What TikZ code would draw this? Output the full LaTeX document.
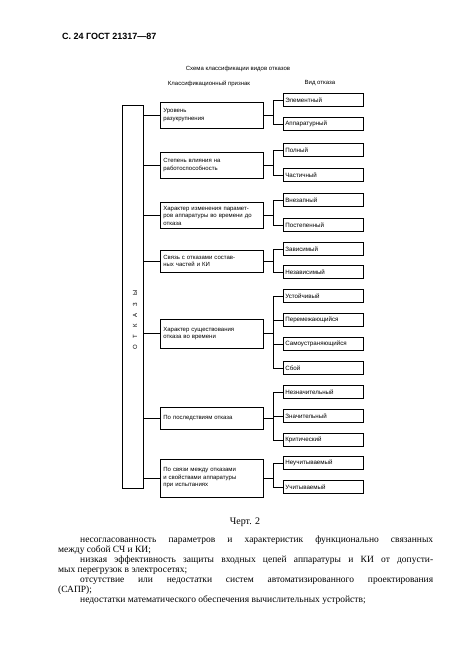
\documentclass[tikz,border=0pt]{standalone}
\usepackage{fontspec}
\setmainfont{Liberation Serif}
\setsansfont{Liberation Sans}
\usepackage{tikz}

\begin{document}
\begin{tikzpicture}[x=1pt,y=-1pt]
\tikzset{
  sign/.style={draw,line width=0.7pt,anchor=west,text width=97pt,inner xsep=3pt,
    align=left,font=\sffamily\fontsize{6}{7.5}\selectfont},
  kind/.style={draw,line width=0.7pt,anchor=west,text width=76pt,inner xsep=2pt,
    minimum height=12.5pt,align=left,font=\sffamily\fontsize{6.2}{7.5}\selectfont},
  caption/.style={font=\sffamily\fontsize{6}{7}\selectfont,inner sep=0pt},
  link/.style={line width=0.7pt}
}
\useasboundingbox (0,0) rectangle (467,661);

\node[anchor=base west,inner sep=0pt,font=\sffamily\bfseries\fontsize{9}{10}\selectfont] (head) at (62,40) {С.~24 ГОСТ 21317---87};
\node[caption] (title) at (238,69) {Схема классификации видов отказов};
\node[caption] (signhead) at (209,84) {Классификационный признак};
\node[caption] (kindhead) at (320,83) {Вид отказа};

\node[draw,line width=0.7pt,minimum width=21pt,minimum height=383pt,inner sep=0pt] (otk) at (132.5,296.5) {};
\node[rotate=90,font=\sffamily\fontsize{6}{7}\selectfont,inner sep=0pt] (otkword) at (135,320)
  {О\hspace{7pt}Т\hspace{7pt}К\hspace{7pt}А\hspace{7pt}З\hspace{7pt}Ы};

\node[sign,minimum height=26pt] (c1) at (160,115) {Уровень\\разукрупнения};
\node[sign,minimum height=26pt] (c2) at (160,165) {Степень влияния на\\работоспособность};
\node[sign,minimum height=25pt] (c3) at (160,215.5) {Характер изменения парамет-\\ров аппаратуры во времени до\\отказа};
\node[sign,minimum height=22pt] (c4) at (160,261) {Связь с отказами состав-\\ных частей и КИ};
\node[sign,minimum height=29pt] (c5) at (160,333.5) {Характер существования\\отказа во времени};
\node[sign,minimum height=22pt] (c6) at (160,418) {По последствиям отказа};
\node[sign,minimum height=38pt] (c7) at (160,478) {По связи между отказами\\и свойствами аппаратуры\\при испытаниях};

\node[kind] (k1a) at (283,100) {Элементный};
\node[kind] (k1b) at (283,124) {Аппаратурный};
\node[kind] (k2a) at (283,150) {Полный};
\node[kind] (k2b) at (283,175) {Частичный};
\node[kind] (k3a) at (283,200) {Внезапный};
\node[kind] (k3b) at (283,225) {Постепенный};
\node[kind] (k4a) at (283,249) {Зависимый};
\node[kind] (k4b) at (283,272) {Независимый};
\node[kind] (k5a) at (283,296) {Устойчивый};
\node[kind] (k5b) at (283,320) {Перемежающийся};
\node[kind] (k5c) at (283,344) {Самоустраняющийся};
\node[kind] (k5d) at (283,368) {Сбой};
\node[kind] (k6a) at (283,392) {Незначительный};
\node[kind] (k6b) at (283,416) {Значительный};
\node[kind] (k6c) at (283,440) {Критический};
\node[kind] (k7a) at (283,463) {Неучитываемый};
\node[kind] (k7b) at (283,487) {Учитываемый};

\draw[link] (c1.west) -- (c1.west -| otk.east);
\draw[link] (c2.west) -- (c2.west -| otk.east);
\draw[link] (c3.west) -- (c3.west -| otk.east);
\draw[link] (c4.west) -- (c4.west -| otk.east);
\draw[link] (c5.west) -- (c5.west -| otk.east);
\draw[link] (c6.west) -- (c6.west -| otk.east);
\draw[link] (c7.west) -- (c7.west -| otk.east);

\draw[link] (c1.east) -- ([xshift=-10pt]c1.east -| k1a.west);
\draw[link] (k1a.west) -- ++(-10,0) |- (k1b.west);
\draw[link] (c2.east) -- ([xshift=-10pt]c2.east -| k2a.west);
\draw[link] (k2a.west) -- ++(-10,0) |- (k2b.west);
\draw[link] (c3.east) -- ([xshift=-10pt]c3.east -| k3a.west);
\draw[link] (k3a.west) -- ++(-10,0) |- (k3b.west);
\draw[link] (c4.east) -- ([xshift=-10pt]c4.east -| k4a.west);
\draw[link] (k4a.west) -- ++(-10,0) |- (k4b.west);
\draw[link] (c5.east) -- ([xshift=-10pt]c5.east -| k5a.west);
\draw[link] (k5a.west) -- ++(-10,0) |- (k5d.west);
\draw[link] (k5b.west) -- ++(-10,0);
\draw[link] (k5c.west) -- ++(-10,0);
\draw[link] (c6.east) -- ([xshift=-10pt]c6.east -| k6a.west);
\draw[link] (k6a.west) -- ++(-10,0) |- (k6c.west);
\draw[link] (k6b.west) -- ++(-10,0);
\draw[link] (c7.east) -- ([xshift=-10pt]c7.east -| k7a.west);
\draw[link] (k7a.west) -- ++(-10,0) |- (k7b.west);

\node[font=\fontsize{10}{11}\selectfont,inner sep=0pt] (chert) at (245,522) {Черт. 2};

\node[anchor=north west,text width=375pt,align=justify,inner sep=0pt,
  font=\fontsize{9.5}{10}\selectfont] (body) at (58,536)
{\hspace*{22pt}несогласованность параметров и характеристик функционально связанных\linebreak
между собой СЧ и КИ;\par
\hspace*{22pt}низкая эффективность защиты входных цепей аппаратуры и КИ от допусти-\linebreak
мых перегрузок в электросетях;\par
\hspace*{22pt}отсутствие или недостатки систем автоматизированного проектирования\linebreak
(САПР);\par
\hspace*{22pt}недостатки математического обеспечения вычислительных устройств;\par};
\end{tikzpicture}
\end{document}
